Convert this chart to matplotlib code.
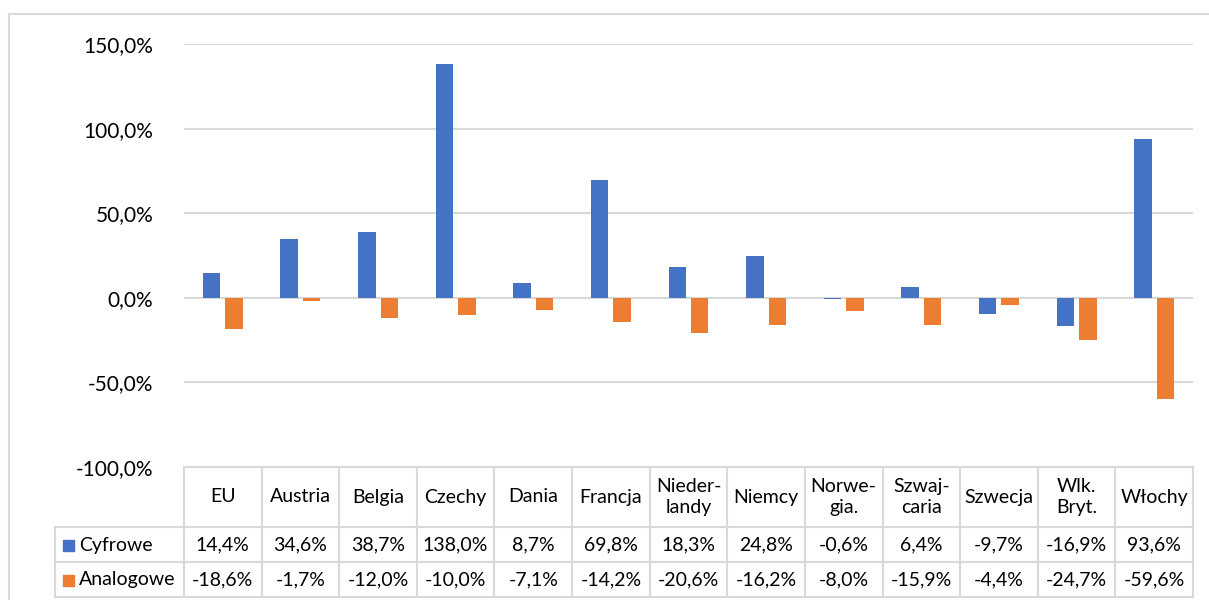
import numpy as np
import matplotlib.pyplot as plt
from matplotlib.lines import Line2D
from matplotlib.transforms import blended_transform_factory

plt.rcParams['font.family'] = ['Lato', 'DejaVu Sans']

categories = ['EU', 'Austria', 'Belgia', 'Czechy', 'Dania', 'Francja', 'Nieder-\nlandy',
              'Niemcy', 'Norwe-\ngia.', 'Szwaj-\ncaria', 'Szwecja', 'Wlk.\nBryt.', 'Włochy']
cyfrowe = [14.4, 34.6, 38.7, 138.0, 8.7, 69.8, 18.3, 24.8, -0.6, 6.4, -9.7, -16.9, 93.6]
analogowe = [-18.6, -1.7, -12.0, -10.0, -7.1, -14.2, -20.6, -16.2, -8.0, -15.9, -4.4, -24.7, -59.6]
series_names = ['Cyfrowe', 'Analogowe']
yticks = [-100, -50, 0, 50, 100, 150]

BLUE = '#4472C4'
ORANGE = '#ED7D31'
GRID = '#D9D9D9'

W, H = 1209, 600
fig = plt.figure(figsize=(W / 100, H / 100), dpi=100)

# plot area in pixels
x0, x1 = 184, 1193
ytop, ybot = 44, 467
ax = fig.add_axes([x0 / W, (H - ybot) / H, (x1 - x0) / W, (ybot - ytop) / H])

x = np.arange(len(categories))
bw = 0.225
ax.bar(x - 0.145, cyfrowe, bw, color=BLUE, zorder=3)
ax.bar(x + 0.145, analogowe, bw, color=ORANGE, zorder=3)

ax.set_xlim(-0.5, len(categories) - 0.5)
ax.set_ylim(-100, 150)
ax.set_yticks(yticks)
ax.set_yticklabels([f'{v:.1f}%'.replace('.', ',') for v in yticks], fontsize=15)
ax.tick_params(axis='y', length=0, pad=22)
ax.set_xticks([])
for s in ax.spines.values():
    s.set_visible(False)
ax.grid(axis='y', color=GRID, linewidth=1.5, zorder=0)
ax.set_axisbelow(True)

# data table below the plot
ph = ybot - ytop
def ay(py):
    return (ybot - py) / ph

tr = blended_transform_factory(ax.transData, ax.transAxes)
tra = ax.transAxes
row_lines = [467, 527, 562, 597]
leg_x = (55 - x0) / (x1 - x0)
lk = dict(color=GRID, linewidth=1.5, clip_on=False)

ax.add_line(Line2D([-0.5, len(categories) - 0.5], [ay(467)] * 2, transform=tr, **lk))
for py in row_lines[1:]:
    ax.add_line(Line2D([leg_x, 1], [ay(py)] * 2, transform=tra, **lk))
ax.add_line(Line2D([leg_x, leg_x], [ay(527), ay(597)], transform=tra, **lk))
for b in np.arange(len(categories) + 1) - 0.5:
    ax.add_line(Line2D([b, b], [ay(467), ay(597)], transform=tr, **lk))

fs = 14
fmt = lambda v: f'{v:.1f}%'.replace('.', ',')
for i, c in enumerate(categories):
    ax.text(i, ay(497), c, transform=tr, ha='center', va='center', fontsize=fs,
            linespacing=1.3)
    ax.text(i, ay(545), fmt(cyfrowe[i]), transform=tr, ha='center', va='center', fontsize=fs)
    ax.text(i, ay(580), fmt(analogowe[i]), transform=tr, ha='center', va='center', fontsize=fs)

for name, col, py in zip(series_names, [BLUE, ORANGE], [545, 580]):
    fig.patches.append(plt.Rectangle(((63) / W, (H - py - 6) / H), 11 / W, 11 / H,
                                     transform=fig.transFigure, color=col))
    fig.text(79 / W, (H - py) / H, name, ha='left', va='center', fontsize=fs)

# outer chart frame
fig.add_artist(Line2D([9 / W, 9 / W], [0, (H - 14) / H], color=GRID, linewidth=1.5))
fig.add_artist(Line2D([9 / W, 1], [(H - 14) / H] * 2, color=GRID, linewidth=1.5))

fig.savefig('out.png', dpi=100)
